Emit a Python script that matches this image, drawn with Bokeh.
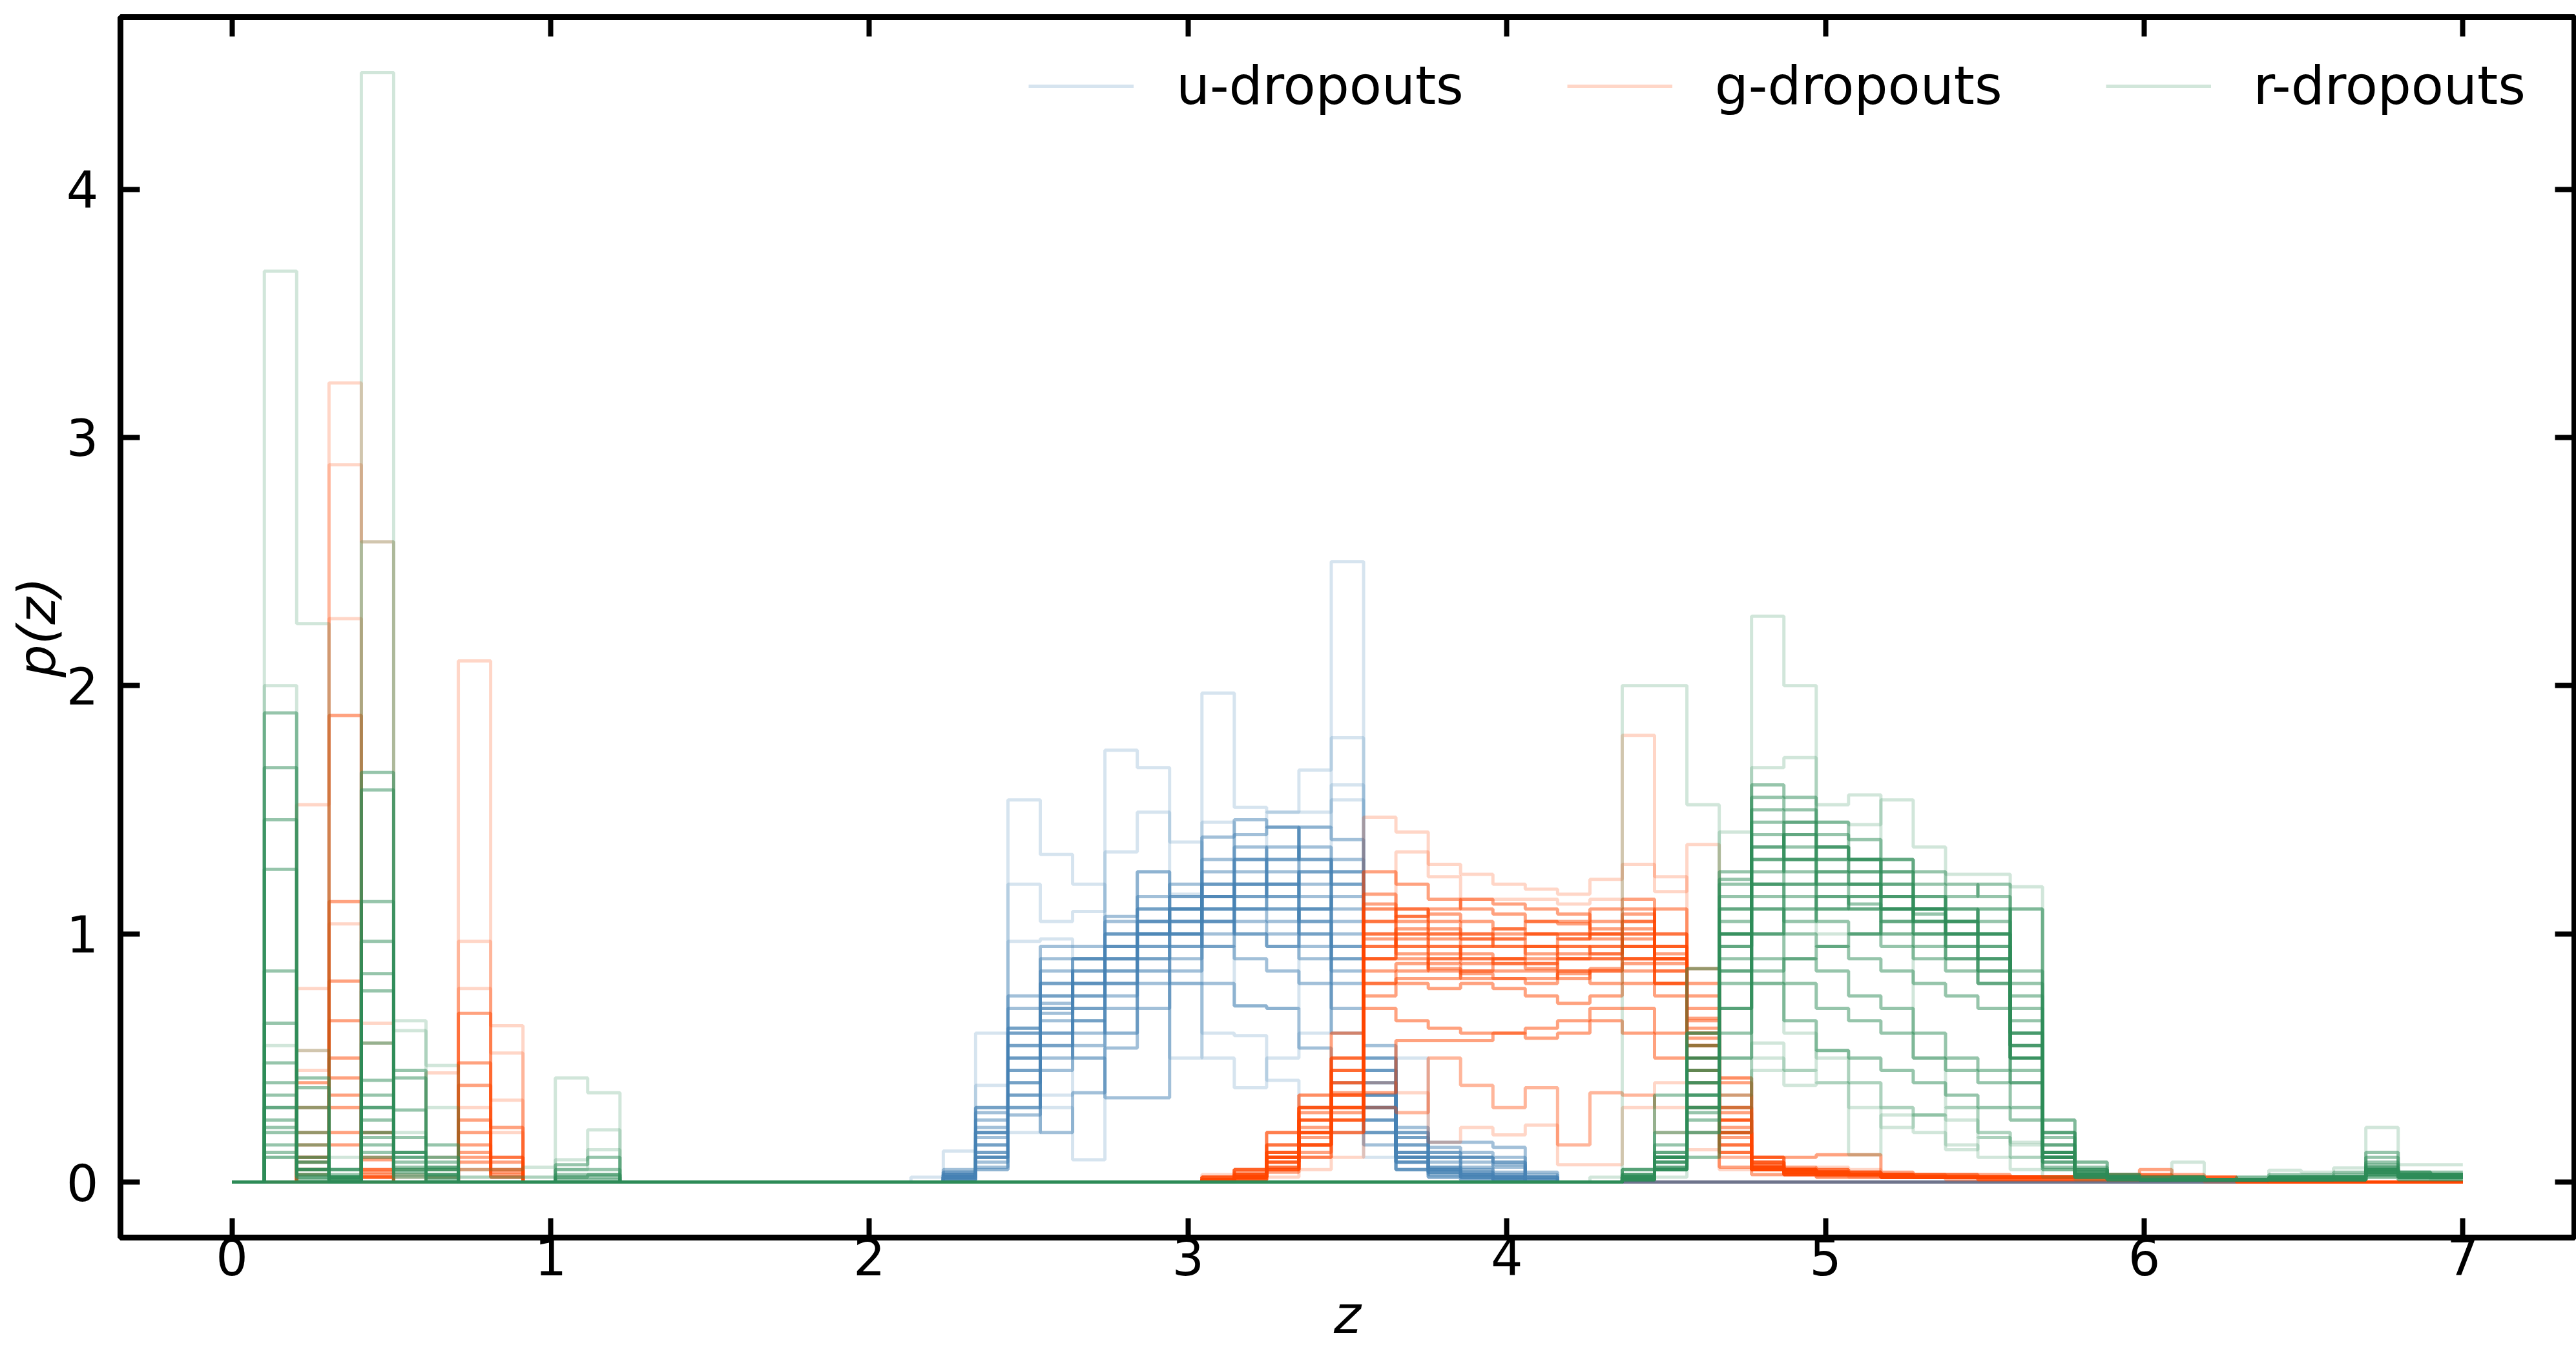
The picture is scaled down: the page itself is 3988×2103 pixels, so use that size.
import numpy as np
from bokeh.plotting import figure
from bokeh.models import Range1d, LinearAxis, FixedTicker, Legend, LegendItem
from bokeh.embed import file_html
from bokeh.resources import INLINE

# ---------------- data ----------------
Z_MIN, Z_MAX, N_Z = 0.0, 7.0, 70          # redshift grid of the p(z)
X_TICKS = [0, 1, 2, 3, 4, 5, 6, 7]
Y_TICKS = [0, 1, 2, 3, 4]
LABELS = ["u-dropouts", "g-dropouts", "r-dropouts"]

# u-dropouts: values for grid bins 21..40
U_START = 21
U_CURVES = [
    [0, 0.02, 0.05, 0.2, 0.35, 0.5, 0.8, 1.0, 1.1, 1.2, 1.3, 1.49, 1.66, 2.5, 0.45, 0.1, 0.03, 0.02, 0.01, 0],
    [0.02, 0.125, 0.6, 1.54, 1.32, 1.2, 1.0, 0.85, 0.8, 0.6, 0.59, 0.41, 0.3, 0.2, 0.1, 0.05, 0.02, 0.01, 0, 0],
    [0, 0.03, 0.39, 1.2, 1.05, 1.09, 1.74, 1.67, 1.37, 0.5, 0.38, 0.5, 0.6, 1.54, 0.2, 0.5, 0.1, 0.05, 0.02, 0],
    [0, 0.01, 0.1, 0.97, 0.98, 0.9, 1.33, 1.49, 0.5, 1.97, 1.51, 1.49, 1.49, 1.79, 0.3, 0.05, 0.02, 0.01, 0, 0],
    [0, 0.02, 0.1, 0.5, 0.3, 0.09, 0.6, 1.25, 1.16, 1.45, 0.71, 0.7, 1.43, 1.6, 0.25, 0.1, 0.05, 0.03, 0.02, 0],
    [0, 0.02, 0.1, 0.3, 0.55, 0.7, 0.85, 1.0, 1.1, 1.2, 1.25, 1.2, 1.1, 0.9, 0.3, 0.1, 0.05, 0.03, 0.02, 0],
    [0, 0.03, 0.2, 0.5, 0.75, 0.85, 1.0, 1.1, 1.15, 1.1, 1.05, 1.0, 0.95, 0.7, 0.2, 0.08, 0.04, 0.02, 0.01, 0],
    [0, 0.05, 0.3, 0.62, 0.9, 0.9, 1.07, 1.25, 1.0, 0.95, 0.9, 0.85, 0.8, 0.6, 0.15, 0.05, 0.02, 0.01, 0, 0],
    [0, 0.01, 0.05, 0.27, 0.55, 0.6, 0.75, 0.95, 1.05, 1.3, 1.4, 1.43, 1.3, 1.1, 0.45, 0.15, 0.08, 0.05, 0.03, 0.01],
    [0, 0.02, 0.15, 0.4, 0.6, 0.8, 0.9, 0.9, 0.95, 1.05, 1.15, 1.3, 1.43, 1.38, 0.35, 0.12, 0.1, 0.1, 0.08, 0.02],
    [0, 0.04, 0.25, 0.7, 0.85, 0.75, 0.95, 1.05, 1.1, 1.15, 1.1, 1.1, 1.0, 0.9, 0.25, 0.2, 0.14, 0.12, 0.1, 0.03],
    [0, 0.02, 0.12, 0.45, 0.65, 0.65, 0.6, 0.8, 0.85, 0.95, 1.35, 1.2, 1.25, 1.2, 0.5, 0.22, 0.16, 0.16, 0.14, 0.04],
    [0, 0.01, 0.08, 0.35, 0.2, 0.36, 0.54, 0.7, 0.8, 0.8, 0.71, 0.7, 0.54, 0.4, 0.2, 0.05, 0.03, 0.02, 0.01, 0],
    [0, 0.02, 0.2, 0.6, 0.8, 0.5, 0.34, 0.34, 0.9, 1.39, 1.46, 1.43, 1.0, 0.8, 0.3, 0.1, 0.05, 0.03, 0.02, 0],
    [0, 0.03, 0.18, 0.55, 0.7, 0.8, 0.9, 1.0, 1.05, 1.1, 1.2, 1.15, 1.2, 1.05, 0.4, 0.12, 0.06, 0.04, 0.02, 0],
    [0, 0.02, 0.1, 0.4, 0.6, 0.7, 0.8, 0.95, 1.0, 1.05, 1.0, 0.95, 1.1, 1.25, 0.55, 0.18, 0.1, 0.06, 0.04, 0.01],
    [0, 0.02, 0.15, 0.45, 0.7, 0.8, 0.95, 1.05, 1.15, 1.2, 1.15, 1.1, 1.05, 0.95, 0.3, 0.1, 0.05, 0.03, 0.02, 0],
    [0, 0.03, 0.2, 0.6, 0.75, 0.85, 0.9, 1.0, 1.05, 1.15, 1.3, 1.25, 1.15, 1.0, 0.35, 0.12, 0.06, 0.04, 0.03, 0.01],
    [0, 0.01, 0.1, 0.35, 0.5, 0.65, 0.8, 0.9, 1.0, 1.1, 1.2, 1.3, 1.35, 1.25, 0.4, 0.15, 0.1, 0.08, 0.06, 0.02],
    [0, 0.04, 0.28, 0.75, 0.95, 0.95, 1.0, 1.1, 1.1, 1.05, 1.0, 0.95, 0.9, 0.85, 0.25, 0.08, 0.04, 0.02, 0.01, 0],
    [0, 0.02, 0.22, 0.55, 0.8, 0.9, 0.95, 1.05, 1.1, 1.15, 1.1, 1.05, 1.1, 1.15, 0.35, 0.1, 0.05, 0.03, 0.02, 0],
    [0, 0.03, 0.12, 0.5, 0.68, 0.75, 0.85, 1.0, 1.0, 1.25, 1.3, 1.35, 1.3, 1.2, 0.45, 0.2, 0.12, 0.1, 0.08, 0.02],
    [0, 0.02, 0.3, 0.62, 0.72, 0.9, 1.05, 1.15, 1.2, 1.15, 1.2, 1.15, 1.05, 0.95, 0.3, 0.08, 0.04, 0.02, 0.01, 0],
    [0, 0.01, 0.06, 0.3, 0.45, 0.55, 0.7, 0.85, 0.95, 1.0, 1.1, 1.2, 1.25, 1.3, 0.5, 0.18, 0.12, 0.1, 0.07, 0.02],
]
U_FAINT = [0, 1, 2, 3, 4]

# g-dropouts: low-z part (bins 1..9) and main part (bins 30..63)
G_LOW_START, G_MAIN_START = 1, 30
G_LOW = [
    [0, 1.52, 3.22, 2.58, 0.05, 0.44, 2.1, 0.63, 0],
    [0, 0.78, 2.89, 0.64, 0.02, 0.1, 0.97, 0.52, 0],
    [0, 0.53, 2.27, 0.56, 0.03, 0.05, 0.78, 0.33, 0],
    [0, 0.3, 1.88, 0.2, 0, 0.02, 0.68, 0.22, 0],
    [0, 0.2, 1.13, 0.09, 0, 0, 0.48, 0.1, 0],
    [0, 0.1, 0.81, 0.05, 0, 0, 0.39, 0.05, 0],
    [0, 0.05, 0.65, 0.02, 0, 0, 0.2, 0.02, 0],
    [0, 0.4, 0.3, 0.1, 0, 0, 0.1, 0.1, 0],
    [0, 0.45, 1.04, 0.2, 0, 0, 0.3, 0.2, 0],
    [0, 0.15, 0.5, 0.05, 0, 0, 0.25, 0.08, 0],
    [], [], [], [], [], [], [], [],
    [0, 0.1, 0.35, 0.03, 0, 0, 0.15, 0.05, 0],
    [], [0, 0.05, 0.2, 0.02, 0, 0, 0.08, 0.03, 0], [],
    [0, 0.08, 0.42, 0.04, 0, 0, 0.12, 0.04, 0], [], [], [0, 0.03, 0.15, 0.02, 0, 0, 0.05, 0.02, 0],
]
G_MAIN = [
    [],
    [0, 0.02, 0.05, 0.1, 0.2, 0.3, 0.28, 0.5, 0.39, 0.3, 0.38, 0.15, 0.36, 0.35, 0.3, 0.2, 0.1, 0.05, 0.03, 0.03, 0.02, 0.02, 0.02, 0.01, 0.01, 0.01, 0.01, 0.01, 0.01, 0.01, 0.01, 0, 0, 0],
    [0.03, 0.05, 0.2, 0.3, 0.45, 0.4, 0.36, 0.16, 0.22, 0.19, 0.23, 0.07, 0.07, 0.3, 0.4, 0.5, 0.42, 0.1, 0.05, 0.04, 0.04, 0.03, 0.03, 0.03, 0.02, 0.02, 0.02, 0.02, 0.02, 0.02, 0.02, 0.01, 0.01, 0.01],
    [0.01, 0.03, 0.1, 0.25, 0.35, 0.7, 0.65, 0.62, 0.6, 0.6, 0.58, 0.6, 0.65, 0.6, 0.5, 0.4, 0.2, 0.06, 0.04, 0.03, 0.03, 0.02, 0.02, 0.02, 0.02, 0.02, 0.02, 0.03, 0.03, 0.03, 0.02, 0.02, 0.01, 0.01],
    [0, 0.02, 0.08, 0.2, 0.3, 0.75, 0.8, 0.78, 0.8, 0.78, 0.75, 0.72, 0.75, 0.8, 0.75, 0.55, 0.25, 0.05, 0.04, 0.03, 0.03, 0.02, 0.02, 0.02, 0.01, 0.01, 0.01, 0.01, 0.01, 0.01, 0.01, 0.01, 0, 0],
    [0, 0.02, 0.05, 0.15, 0.25, 0.85, 0.88, 0.85, 0.82, 0.82, 0.8, 0.85, 0.8, 0.85, 0.8, 0.45, 0.15, 0.05, 0.03, 0.03, 0.03, 0.02, 0.02, 0.02, 0.02, 0.02, 0.02, 0.02, 0.02, 0.02, 0.02, 0.01, 0.01, 0],
    [0, 0.01, 0.04, 0.1, 0.2, 0.9, 0.95, 0.92, 0.9, 0.88, 0.86, 0.9, 0.9, 0.95, 0.9, 0.5, 0.12, 0.05, 0.03, 0.03, 0.03, 0.02, 0.02, 0.02, 0.02, 0.02, 0.02, 0.02, 0.02, 0.02, 0.02, 0.01, 0, 0],
    [0.01, 0.03, 0.12, 0.2, 0.3, 1.0, 1.0, 0.98, 0.95, 0.95, 0.92, 0.95, 0.92, 1.0, 0.95, 0.6, 0.2, 0.06, 0.05, 0.04, 0.03, 0.03, 0.02, 0.02, 0.02, 0.02, 0.02, 0.02, 0.03, 0.05, 0.03, 0.02, 0.01, 0.01],
    [0.02, 0.05, 0.2, 0.35, 0.5, 0.3, 0.28, 0.5, 0.39, 0.3, 0.38, 0.15, 0.36, 0.35, 0.2, 0.13, 0.05, 0.1, 0.03, 0.06, 0.05, 0.03, 0.02, 0.02, 0.02, 0.02, 0.02, 0.02, 0.02, 0.02, 0.01, 0.01, 0.01, 0],
    [0.02, 0.05, 0.15, 0.3, 0.45, 1.05, 1.0, 0.95, 0.92, 0.9, 0.88, 0.85, 0.85, 0.9, 0.8, 0.5, 0.2, 0.06, 0.04, 0.04, 0.03, 0.02, 0.02, 0.02, 0.02, 0.02, 0.02, 0.02, 0.02, 0.02, 0.02, 0.01, 0.01, 0],
    [0, 0.02, 0.1, 0.25, 0.4, 1.16, 1.07, 1.05, 1.0, 1.0, 1.0, 1.0, 1.05, 1.1, 1.0, 0.7, 0.3, 0.08, 0.05, 0.05, 0.04, 0.03, 0.03, 0.02, 0.02, 0.02, 0.02, 0.02, 0.02, 0.02, 0.02, 0.01, 0.01, 0],
    [0.02, 0.05, 0.2, 0.35, 0.5, 1.25, 1.2, 1.14, 1.1, 1.08, 1.05, 1.05, 1.1, 1.14, 0.9, 0.3, 0.06, 0.03, 0.03, 0.02, 0.02, 0.02, 0.02, 0.02, 0.01, 0.01, 0.01, 0.01, 0.01, 0.01, 0.01, 0.01, 0, 0],
    [0, 0.02, 0.08, 0.15, 0.25, 0.95, 1.07, 1.1, 1.14, 1.12, 1.1, 1.08, 1.0, 0.9, 0.8, 0.65, 0.42, 0.1, 0.05, 0.04, 0.03, 0.03, 0.02, 0.02, 0.02, 0.02, 0.02, 0.02, 0.02, 0.02, 0.02, 0.01, 0.01, 0],
    [0, 0.02, 0.1, 0.25, 0.36, 0.36, 0.57, 0.57, 0.57, 0.6, 0.62, 0.65, 0.7, 0.7, 0.6, 0.86, 0.35, 0.1, 0.1, 0.11, 0.11, 0.04, 0.03, 0.03, 0.03, 0.02, 0.02, 0.02, 0.02, 0.02, 0.02, 0.01, 0.01, 0],
    [0, 0.01, 0.02, 0.05, 0.1, 1.47, 1.41, 1.28, 1.24, 1.2, 1.18, 1.16, 1.22, 1.8, 1.23, 0.5, 0.1, 0.05, 0.03, 0.02, 0.02, 0.02, 0.02, 0.01, 0.01, 0.01, 0.01, 0.01, 0.01, 0.01, 0.01, 0.01, 0, 0],
    [0, 0.02, 0.05, 0.1, 0.2, 1.1, 1.33, 1.23, 1.14, 1.14, 1.14, 1.12, 1.14, 1.28, 1.17, 1.36, 0.3, 0.1, 0.05, 0.04, 0.03, 0.02, 0.02, 0.02, 0.02, 0.02, 0.02, 0.02, 0.02, 0.02, 0.02, 0.01, 0.01, 0],
    [0.01, 0.03, 0.12, 0.3, 0.6, 0.9, 0.9, 0.88, 0.85, 0.85, 0.85, 0.82, 0.85, 0.88, 0.85, 0.8, 0.4, 0.08, 0.06, 0.05, 0.04, 0.03, 0.03, 0.03, 0.02, 0.02, 0.02, 0.02, 0.02, 0.02, 0.02, 0.01, 0.01, 0.01],
    [0, 0.01, 0.05, 0.15, 0.3, 0.8, 0.82, 0.82, 0.85, 0.9, 0.95, 0.98, 1.0, 1.05, 1.1, 0.75, 0.25, 0.06, 0.04, 0.03, 0.03, 0.02, 0.02, 0.02, 0.02, 0.02, 0.02, 0.02, 0.02, 0.02, 0.02, 0.01, 0.01, 0],
    [0.01, 0.02, 0.1, 0.2, 0.35, 0.95, 0.98, 0.95, 0.9, 0.9, 0.9, 0.92, 0.95, 1.0, 0.95, 0.55, 0.2, 0.06, 0.05, 0.04, 0.03, 0.03, 0.02, 0.02, 0.02, 0.02, 0.02, 0.02, 0.02, 0.03, 0.02, 0.02, 0.01, 0.01],
    [0, 0.02, 0.06, 0.15, 0.25, 1.05, 1.1, 1.02, 0.98, 0.95, 0.95, 0.9, 0.9, 0.95, 0.85, 0.5, 0.15, 0.05, 0.04, 0.03, 0.03, 0.02, 0.02, 0.02, 0.02, 0.02, 0.02, 0.02, 0.02, 0.02, 0.02, 0.01, 0.01, 0],
    [0.02, 0.04, 0.15, 0.3, 0.5, 0.8, 0.85, 0.9, 0.95, 0.98, 1.0, 1.0, 0.98, 0.95, 0.9, 0.6, 0.25, 0.07, 0.05, 0.04, 0.03, 0.03, 0.02, 0.02, 0.02, 0.02, 0.02, 0.02, 0.02, 0.02, 0.02, 0.01, 0.01, 0.01],
    [0, 0.01, 0.05, 0.12, 0.3, 1.1, 1.05, 1.0, 1.0, 0.98, 0.95, 0.95, 0.95, 1.05, 0.9, 0.45, 0.12, 0.05, 0.03, 0.03, 0.03, 0.02, 0.02, 0.02, 0.02, 0.02, 0.02, 0.02, 0.02, 0.02, 0.02, 0.01, 0.01, 0],
    [0, 0.02, 0.08, 0.2, 0.35, 1.0, 0.95, 0.9, 0.88, 0.88, 0.88, 0.9, 0.92, 0.98, 0.92, 0.62, 0.22, 0.06, 0.05, 0.04, 0.03, 0.03, 0.02, 0.02, 0.02, 0.02, 0.02, 0.02, 0.02, 0.02, 0.02, 0.01, 0.01, 0],
    [0.01, 0.03, 0.1, 0.22, 0.4, 0.9, 1.02, 1.0, 0.98, 1.02, 1.05, 1.04, 1.02, 1.08, 1.0, 0.66, 0.28, 0.07, 0.05, 0.04, 0.03, 0.03, 0.02, 0.02, 0.02, 0.02, 0.02, 0.02, 0.02, 0.02, 0.02, 0.01, 0.01, 0],
    [0, 0.02, 0.06, 0.18, 0.28, 0.98, 0.92, 0.86, 0.84, 0.82, 0.82, 0.84, 0.86, 0.9, 0.88, 0.58, 0.3, 0.08, 0.05, 0.04, 0.04, 0.03, 0.02, 0.02, 0.02, 0.02, 0.02, 0.02, 0.02, 0.02, 0.02, 0.01, 0.01, 0.01],
    [0.01, 0.02, 0.12, 0.28, 0.45, 1.12, 1.1, 1.08, 1.05, 1.02, 1.0, 0.98, 1.0, 1.02, 0.95, 0.55, 0.18, 0.05, 0.04, 0.03, 0.03, 0.02, 0.02, 0.02, 0.02, 0.02, 0.02, 0.02, 0.02, 0.02, 0.02, 0.01, 0.01, 0],
]
G_FAINT = [0, 1, 2, 8, 14, 15]

# r-dropouts: low-z part (bins 1..11) and main part (bins 42..68)
R_LOW_START, R_MAIN_START = 1, 42
R_LOW = [
    [3.67, 2.25, 0.05, 0.3, 0.2, 0.1, 0.02, 0.02, 0.02, 0.09, 0.21],
    [0.1, 0.1, 0.05, 4.47, 0.61, 0.47, 0.05, 0.05, 0.06, 0.42, 0.36],
    [2.0, 0.53, 0.1, 2.58, 0.65, 0.3, 0.02, 0.02, 0.02, 0.05, 0.13],
    [1.89, 0.42, 0.05, 1.65, 0.45, 0.15, 0, 0, 0, 0.07, 0.1],
    [1.67, 0.38, 0.05, 1.58, 0.42, 0.1, 0, 0, 0, 0.05, 0.05],
    [1.46, 0.3, 0.03, 1.13, 0.29, 0.08, 0, 0, 0, 0.03, 0.03],
    [1.26, 0.2, 0.02, 0.97, 0.18, 0.05, 0, 0, 0, 0.02, 0.02],
    [0.85, 0.15, 0.02, 0.84, 0.12, 0.03, 0, 0, 0, 0.01, 0.01],
    [0.64, 0.1, 0.01, 0.77, 0.08, 0.02],
    [0.48, 0.05, 0, 0.56, 0.05, 0.01],
    [0.35, 0.03, 0, 0.41, 0.03],
    [0.2, 0.02, 0, 0.25, 0.02],
    [0.1, 0.01, 0, 0.1],
    [0.55, 0.1, 0.02, 0.2, 0.05],
    [], [], [], [],
    [0.3, 0.05, 0.02, 0.3, 0.1, 0.05],
    [],
    [0.3, 0.05, 0.02, 0.2, 0.1, 0.05],
    [0.15, 0.03, 0.01, 0.15, 0.05, 0.03],
    [0.25, 0.08, 0.02, 0.3, 0.12, 0.06, 0, 0, 0, 0.02, 0.03],
    [],
    [0.4, 0.08, 0.02, 0.35, 0.12, 0.06],
    [0.22, 0.05, 0.01, 0.18, 0.06, 0.03],
    [],
    [0.12, 0.02, 0.01, 0.12, 0.04, 0.02],
]
R_MAIN = [
    [0, 0.01, 0.05, 0.1, 0.2, 0.45, 0.39, 0.4, 0.11, 0.27, 0.27, 0.13, 0.18, 0.1, 0.05, 0.02, 0.01, 0.01, 0.02, 0.01, 0.01, 0.01, 0.01, 0.01, 0.03, 0.02, 0.01],
    [0, 0.01, 0.05, 0.1, 0.3, 0.56, 0.45, 0.53, 0.4, 0.22, 0.27, 0.3, 0.2, 0.16, 0.05, 0.02, 0.01, 0.01, 0.02, 0.01, 0.01, 0.01, 0.01, 0.01, 0.02, 0.01, 0.01],
    [0, 0.02, 0.1, 0.2, 0.35, 0.5, 0.45, 0.4, 0.3, 0.3, 0.27, 0.25, 0.2, 0.15, 0.05, 0.02, 0.01, 0.01, 0.01, 0.01, 0.01, 0.01, 0.01, 0.01, 0.02, 0.01, 0.01],
    [0, 0.05, 0.1, 0.3, 0.5, 0.8, 0.65, 0.53, 0.5, 0.45, 0.4, 0.35, 0.3, 0.25, 0.1, 0.03, 0.02, 0.01, 0.02, 0.01, 0.01, 0.01, 0.01, 0.02, 0.05, 0.02, 0.02],
    [0, 0.03, 0.12, 0.35, 0.7, 0.9, 0.8, 0.7, 0.65, 0.6, 0.5, 0.45, 0.4, 0.3, 0.12, 0.03, 0.02, 0.01, 0.01, 0.01, 0.01, 0.02, 0.02, 0.02, 0.04, 0.03, 0.03],
    [0, 0.05, 0.2, 0.5, 0.8, 1.0, 0.9, 0.85, 0.75, 0.7, 0.6, 0.5, 0.45, 0.4, 0.15, 0.05, 0.02, 0.01, 0.01, 0.01, 0.01, 0.02, 0.02, 0.02, 0.05, 0.03, 0.03],
    [0, 0.02, 0.1, 0.4, 0.85, 1.1, 1.0, 0.95, 0.9, 0.85, 0.8, 0.75, 0.7, 0.6, 0.15, 0.04, 0.02, 0.01, 0.01, 0.01, 0.01, 0.02, 0.02, 0.02, 0.06, 0.03, 0.03],
    [0, 0.03, 0.15, 0.6, 1.0, 1.2, 1.1, 1.05, 1.0, 0.95, 0.9, 0.85, 0.8, 0.55, 0.12, 0.04, 0.02, 0.01, 0.02, 0.01, 0.01, 0.02, 0.02, 0.02, 0.08, 0.04, 0.03],
    [0, 0.02, 0.08, 0.45, 0.95, 1.3, 1.25, 1.15, 1.1, 1.0, 0.95, 0.9, 0.85, 0.5, 0.1, 0.03, 0.02, 0.01, 0.01, 0.01, 0.01, 0.01, 0.02, 0.02, 0.05, 0.03, 0.03],
    [0, 0.01, 0.05, 0.3, 1.1, 1.4, 1.35, 1.25, 1.2, 1.1, 1.0, 0.95, 0.9, 0.45, 0.08, 0.02, 0.01, 0.01, 0.01, 0.01, 0.01, 0.01, 0.01, 0.01, 0.04, 0.02, 0.02],
    [0, 0.02, 0.1, 0.5, 1.2, 1.5, 1.45, 1.3, 1.25, 1.15, 1.05, 0.95, 0.9, 0.55, 0.1, 0.03, 0.02, 0.01, 0.01, 0.01, 0.01, 0.01, 0.01, 0.01, 0.04, 0.02, 0.02],
    [0, 0.01, 0.05, 0.35, 1.22, 1.6, 1.55, 1.4, 1.3, 1.25, 1.1, 1.0, 0.85, 0.4, 0.06, 0.02, 0.01, 0.01, 0.01, 0.01, 0.01, 0.01, 0.01, 0.01, 0.03, 0.02, 0.02],
    [0, 0.02, 0.1, 0.6, 1.0, 1.2, 1.3, 1.35, 1.3, 1.3, 1.25, 1.2, 1.15, 0.6, 0.12, 0.03, 0.02, 0.01, 0.01, 0.01, 0.01, 0.01, 0.01, 0.01, 0.04, 0.02, 0.02],
    [0.02, 2.0, 2.0, 1.52, 1.0, 0.8, 0.6, 0.5, 0.4, 0.3, 0.2, 0.15, 0.1, 0.05, 0.02, 0.01, 0.01, 0.01, 0.08, 0.01, 0.01, 0.01, 0.01, 0.01, 0.02, 0.01, 0.01],
    [0, 0.05, 0.1, 0.3, 0.7, 2.28, 2.0, 1.52, 1.56, 1.0, 0.5, 0.3, 0.18, 0.1, 0.05, 0.02, 0.01, 0.01, 0.01, 0.01, 0.01, 0.01, 0.01, 0.01, 0.02, 0.01, 0.01],
    [0, 0.02, 0.05, 0.2, 1.41, 1.67, 1.71, 1.45, 1.44, 1.54, 1.35, 1.24, 1.24, 1.19, 0.25, 0.08, 0.03, 0.02, 0.02, 0.01, 0.01, 0.02, 0.02, 0.02, 0.05, 0.03, 0.03],
    [0, 0.01, 0.02, 0.1, 0.5, 1.0, 1.1, 1.0, 1.0, 1.1, 1.0, 1.0, 1.1, 1.1, 0.2, 0.05, 0.02, 0.02, 0.02, 0.01, 0.02, 0.048, 0.04, 0.057, 0.22, 0.07, 0.07],
    [0, 0.01, 0.05, 0.2, 0.6, 0.85, 0.9, 0.95, 1.0, 1.05, 1.1, 1.15, 1.2, 0.85, 0.25, 0.08, 0.03, 0.02, 0.02, 0.01, 0.02, 0.03, 0.03, 0.04, 0.1, 0.04, 0.04],
    [0, 0.03, 0.35, 0.86, 0.7, 1.0, 1.2, 1.1, 1.15, 1.1, 1.05, 1.0, 1.0, 1.1, 0.2, 0.05, 0.02, 0.01, 0.01, 0.01, 0.01, 0.02, 0.02, 0.02, 0.12, 0.04, 0.03],
    [0, 0.02, 0.1, 0.4, 1.0, 1.35, 1.45, 1.45, 1.38, 1.3, 1.2, 1.1, 1.0, 0.7, 0.1, 0.03, 0.02, 0.01, 0.01, 0.01, 0.01, 0.01, 0.01, 0.02, 0.05, 0.03, 0.02],
    [0, 0.02, 0.08, 0.4, 1.1, 1.3, 1.4, 1.35, 1.3, 1.2, 1.1, 1.05, 0.95, 0.5, 0.1, 0.03, 0.02, 0.01, 0.01, 0.01, 0.01, 0.01, 0.01, 0.01, 0.04, 0.02, 0.02],
    [0, 0.01, 0.05, 0.25, 0.9, 1.2, 1.2, 1.25, 1.2, 1.15, 1.15, 1.1, 1.05, 0.65, 0.12, 0.04, 0.02, 0.01, 0.01, 0.01, 0.01, 0.01, 0.01, 0.02, 0.05, 0.03, 0.02],
    [0, 0.02, 0.12, 0.55, 1.05, 1.45, 1.3, 1.2, 1.15, 1.1, 1.0, 0.9, 0.8, 0.5, 0.1, 0.03, 0.02, 0.01, 0.01, 0.01, 0.01, 0.01, 0.01, 0.01, 0.03, 0.02, 0.02],
    [0, 0.01, 0.06, 0.3, 0.95, 1.15, 1.15, 1.1, 1.1, 1.05, 1.05, 1.0, 1.0, 0.75, 0.18, 0.05, 0.02, 0.01, 0.01, 0.01, 0.01, 0.02, 0.02, 0.02, 0.06, 0.03, 0.03],
    [0, 0.02, 0.1, 0.45, 1.15, 1.35, 1.3, 1.2, 1.2, 1.15, 1.1, 1.05, 1.0, 0.6, 0.12, 0.03, 0.02, 0.01, 0.01, 0.01, 0.01, 0.01, 0.01, 0.02, 0.05, 0.03, 0.02],
    [0, 0.01, 0.06, 0.35, 1.0, 1.25, 1.4, 1.3, 1.25, 1.25, 1.15, 1.05, 0.95, 0.55, 0.1, 0.03, 0.02, 0.01, 0.01, 0.01, 0.01, 0.01, 0.01, 0.01, 0.04, 0.02, 0.02],
    [0, 0.02, 0.08, 0.5, 1.25, 1.55, 1.5, 1.35, 1.3, 1.2, 1.1, 1.0, 0.9, 0.5, 0.08, 0.02, 0.01, 0.01, 0.01, 0.01, 0.01, 0.01, 0.01, 0.01, 0.03, 0.02, 0.02],
    [0, 0.01, 0.05, 0.28, 0.85, 1.1, 1.05, 1.15, 1.12, 1.1, 1.08, 1.05, 1.1, 0.8, 0.2, 0.06, 0.03, 0.02, 0.02, 0.01, 0.01, 0.02, 0.02, 0.03, 0.07, 0.03, 0.03],
]
R_FAINT = [0, 1, 2, 13, 14, 15, 16]

# ---------------- build ----------------
z_grid = np.linspace(Z_MIN, Z_MAX, N_Z)


def build(parts):
    y = np.zeros(N_Z)
    for start, vals in parts:
        y[start:start + len(vals)] = vals
    y[-1] = y[-2]
    return y


u_list = [build([(U_START, c)]) for c in U_CURVES]
g_list = [build([(G_LOW_START, lo), (G_MAIN_START, mn)]) for lo, mn in zip(G_LOW, G_MAIN)]
r_list = [build([(R_LOW_START, lo), (R_MAIN_START, mn)]) for lo, mn in zip(R_LOW, R_MAIN)]

COLORS = ["#4682b4", "#ff4500", "#2e8b57"]
ALPHA_FAINT, ALPHA_BULK = 0.22, 0.5
FONT = "DejaVu Sans"

p = figure(width=3988, height=2103, output_backend="svg", toolbar_location=None,
           x_range=Range1d(-0.35, 7.35), y_range=Range1d(-0.2235, 4.6935),
           min_border_left=186, min_border_right=3, min_border_top=26, min_border_bottom=187,
           background_fill_color="white", border_fill_color="white")
p.grid.visible = False
p.outline_line_color = "black"
p.outline_line_width = 9
p.outline_line_alpha = 1.0

first = []
for group, faint, col in zip([u_list, g_list, r_list], [U_FAINT, G_FAINT, R_FAINT], COLORS):
    rs = []
    for i, y in enumerate(group):
        a = ALPHA_FAINT if i in faint else ALPHA_BULK
        r = p.step(x=z_grid, y=y, mode="after", line_color=col, line_alpha=a, line_width=5)
        rs.append(r)
    first.append(rs[0])

# axes styling
for ax in [p.xaxis[0], p.yaxis[0]]:
    ax.axis_line_color = None
    ax.major_tick_in = 30
    ax.major_tick_out = 0
    ax.minor_tick_in = 0
    ax.minor_tick_out = 0
    ax.major_tick_line_width = 8
    ax.minor_tick_line_color = None
    ax.major_label_text_font = FONT
    ax.major_label_text_font_size = "78px"
    ax.major_label_text_color = "black"
    ax.axis_label_text_font = FONT
    ax.axis_label_text_font_size = "80px"
    ax.axis_label_text_font_style = "italic"
    ax.axis_label_text_color = "black"

p.xaxis[0].ticker = FixedTicker(ticks=X_TICKS)
p.yaxis[0].ticker = FixedTicker(ticks=Y_TICKS)
p.xaxis[0].axis_label = "z"
p.yaxis[0].axis_label = "p(z)"
p.xaxis[0].major_label_standoff = 0
p.yaxis[0].major_label_standoff = 34
p.xaxis[0].axis_label_standoff = 12
p.yaxis[0].axis_label_standoff = -4

top_ax = LinearAxis(ticker=FixedTicker(ticks=X_TICKS))
right_ax = LinearAxis(ticker=FixedTicker(ticks=Y_TICKS))
for ax in [top_ax, right_ax]:
    ax.axis_line_color = None
    ax.major_tick_in = 30
    ax.major_tick_out = 0
    ax.minor_tick_in = 0
    ax.minor_tick_out = 0
    ax.major_tick_line_width = 8
    ax.minor_tick_line_color = None
    ax.major_label_text_font_size = "1px"
    ax.major_label_text_color = None
    ax.major_label_standoff = 0
    ax.axis_label_standoff = 0
p.add_layout(top_ax, "above")
p.add_layout(right_ax, "right")

legend = Legend(items=[LegendItem(label=lab, renderers=[r]) for lab, r in zip(LABELS, first)],
                orientation="horizontal", location=(1406, 1736),
                border_line_color=None, background_fill_alpha=0,
                label_text_font=FONT, label_text_font_size="82px", label_text_color="black",
                glyph_width=163, glyph_height=90, label_height=90,
                label_standoff=66, spacing=160, padding=0, margin=0)
p.add_layout(legend)

open("out.html", "w").write(file_html(p, INLINE))
